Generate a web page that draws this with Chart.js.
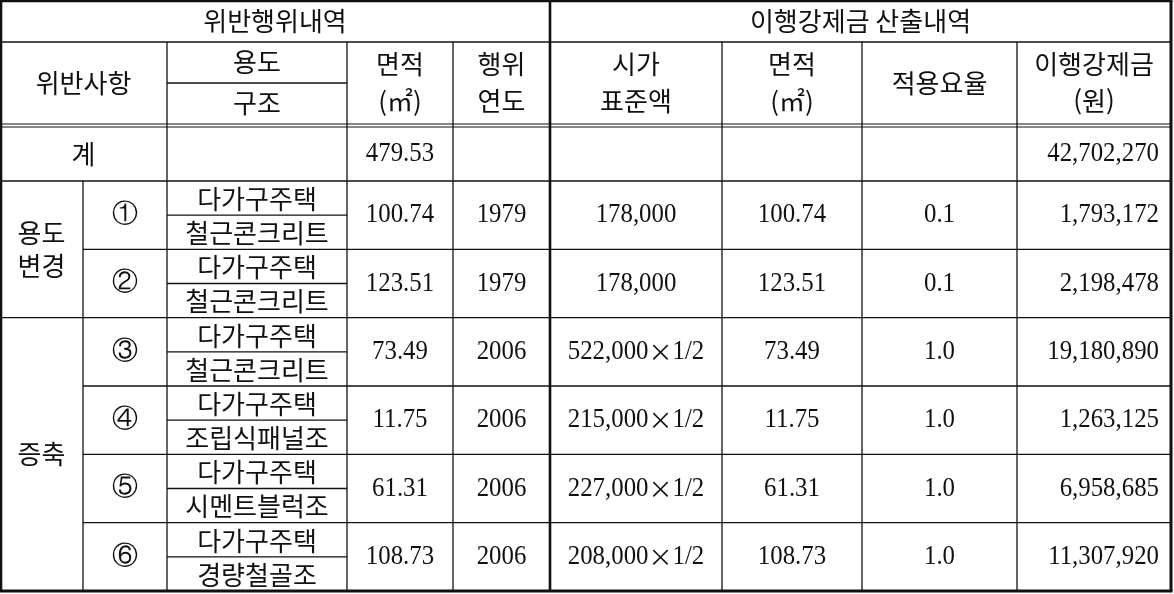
<!DOCTYPE html>
<html lang="ko">
<head>
<meta charset="utf-8">
<script src="https://cdn.jsdelivr.net/npm/chart.js@4/dist/chart.umd.min.js"></script>
<style>
    html, body { margin: 0; padding: 0; background: #fff; }
    #wrap { width: 1174px; height: 594px; }
</style>
</head>
<body>
<div id="wrap"><canvas id="table" width="1174" height="594"></canvas></div>
<script>
// table contents
const groupLabels = ["용도\n변경", "증축"];
const groupSizes = [2, 4];
const itemMarks = ["①", "②", "③", "④", "⑤", "⑥"];
const uses = ["다가구주택", "다가구주택", "다가구주택", "다가구주택", "다가구주택", "다가구주택"];
const structures = ["철근콘크리트", "철근콘크리트", "철근콘크리트", "조립식패널조", "시멘트블럭조", "경량철골조"];
const areas = ["100.74", "123.51", "73.49", "11.75", "61.31", "108.73"];
const years = ["1979", "1979", "2006", "2006", "2006", "2006"];
const standardPrices = ["178,000", "178,000", "522,000×1/2", "215,000×1/2", "227,000×1/2", "208,000×1/2"];
const rates = ["0.1", "0.1", "1.0", "1.0", "1.0", "1.0"];
const fines = [1793172, 2198478, 19180890, 1263125, 6958685, 11307920];
const totalArea = "479.53";
const totalFine = 42702270;
const sectionTitles = ["위반행위내역", "이행강제금 산출내역"];
const leftHeaders = ["위반사항", "용도", "구조", "면적\n(㎡)", "행위\n연도"];
const rightHeaders = ["시가\n표준액", "면적\n(㎡)", "적용요율", "이행강제금\n(원)"];

// layout (scale units)
const colEdges = [0, 83, 167, 347, 453, 550, 722, 862, 1017, 1171];
const headTop = 1, headMid = 42, headSub = 83, headBottom = 124, totalTop = 127, totalBottom = 181, tableBottom = 591;

const KO = '26px "Noto Sans CJK KR"';
const NUM = '27px "Liberation Serif"';
const TIMES = '24px "Noto Sans CJK KR"';
const SQ = 0.92;
const INK = "#111";

function fmt(n) {
    return n.toLocaleString("en-US");
}

function drawText(ctx, text, x, y, font, align, squeeze) {
    ctx.save();
    ctx.font = font;
    ctx.fillStyle = INK;
    ctx.textBaseline = "middle";
    ctx.textAlign = align || "center";
    ctx.translate(x, y);
    ctx.scale(squeeze || 1, 1);
    ctx.fillText(text, 0, 0);
    ctx.restore();
}

// number text where "×" is set in a full-width glyph
function drawNumber(ctx, text, x, y, align) {
    const parts = text.split("×");
    if (parts.length === 1) {
        drawText(ctx, text, x, y, NUM, align, SQ);
        return;
    }
    ctx.save();
    ctx.font = NUM;
    const w0 = ctx.measureText(parts[0]).width * SQ;
    const w2 = ctx.measureText(parts[1]).width * SQ;
    ctx.font = TIMES;
    const w1 = ctx.measureText("×").width;
    ctx.restore();
    const total = w0 + w1 + w2;
    let left = align === "right" ? x - total : x - total / 2;
    drawText(ctx, parts[0], left, y, NUM, "left", SQ);
    drawText(ctx, "×", left + w0 + w1 / 2, y, TIMES, "center");
    drawText(ctx, parts[1], left + w0 + w1, y, NUM, "left", SQ);
}

function drawLines(ctx, text, x, yTop, yBottom, font, gap) {
    const parts = text.split("\n");
    const mid = (yTop + yBottom) / 2;
    parts.forEach((p, i) => {
        drawText(ctx, p, x, mid + (i - (parts.length - 1) / 2) * gap, font);
    });
}

const tablePlugin = {
    id: "tableDraw",
    afterDraw(chart) {
        const ctx = chart.ctx;
        const xs = chart.scales.x;
        const ys = chart.scales.y;
        const X = v => xs.getPixelForValue(v);
        const Y = v => ys.getPixelForValue(v);
        const cx = i => (X(colEdges[i]) + X(colEdges[i + 1])) / 2;

        function hLine(x0, x1, y, w) {
            ctx.beginPath();
            ctx.lineWidth = w || 1.3;
            ctx.strokeStyle = INK;
            ctx.moveTo(X(x0), Y(y));
            ctx.lineTo(X(x1), Y(y));
            ctx.stroke();
        }
        function vLine(x, y0, y1, w) {
            ctx.beginPath();
            ctx.lineWidth = w || 1.3;
            ctx.strokeStyle = INK;
            ctx.moveTo(X(x), Y(y0));
            ctx.lineTo(X(x), Y(y1));
            ctx.stroke();
        }

        const n = itemMarks.length;
        const itemH = (tableBottom - totalBottom) / n;
        const itemTop = i => totalBottom + i * itemH;
        const right = colEdges[colEdges.length - 1];

        // grid
        hLine(colEdges[0], right, headMid);
        hLine(colEdges[2], colEdges[3], headSub);
        hLine(colEdges[0], right, headBottom, 1.2);
        hLine(colEdges[0], right, totalTop, 1.2);
        hLine(colEdges[0], right, totalBottom);
        let groupStart = 0;
        const groupStarts = [];
        groupSizes.forEach(s => { groupStarts.push(groupStart); groupStart += s; });
        for (let i = 1; i < n; i++) {
            const x0 = groupStarts.includes(i) ? colEdges[0] : colEdges[1];
            hLine(x0, right, itemTop(i));
        }
        for (let i = 0; i < n; i++) {
            hLine(colEdges[2], colEdges[3], itemTop(i) + itemH / 2);
        }
        vLine(colEdges[1], totalBottom, tableBottom);
        [2, 3, 4, 6, 7, 8].forEach(c => vLine(colEdges[c], headMid, tableBottom));
        vLine(colEdges[5], headTop, tableBottom, 2.6);
        // outer frame
        hLine(colEdges[0] - 1, right + 1.5, headTop, 2.6);
        hLine(colEdges[0] - 1, right + 1.5, tableBottom, 3);
        vLine(colEdges[0] + 1, headTop, tableBottom, 2.6);
        vLine(right, headTop, tableBottom, 3);

        // headers
        drawText(ctx, sectionTitles[0], (X(colEdges[0]) + X(colEdges[5])) / 2, (Y(headTop) + Y(headMid)) / 2, KO);
        drawText(ctx, sectionTitles[1], (X(colEdges[5]) + X(right)) / 2, (Y(headTop) + Y(headMid)) / 2, KO);
        drawLines(ctx, leftHeaders[0], (X(colEdges[0]) + X(colEdges[2])) / 2, Y(headMid), Y(headBottom), KO, 36);
        drawLines(ctx, leftHeaders[1], cx(2), Y(headMid), Y(headSub), KO, 36);
        drawLines(ctx, leftHeaders[2], cx(2), Y(headSub), Y(headBottom), KO, 36);
        drawLines(ctx, leftHeaders[3], cx(3), Y(headMid), Y(headBottom), KO, 37);
        drawLines(ctx, leftHeaders[4], cx(4), Y(headMid), Y(headBottom), KO, 37);
        rightHeaders.forEach((h, i) => drawLines(ctx, h, cx(5 + i), Y(headMid), Y(headBottom), KO, 37));

        // total row
        const totalMid = (Y(totalTop) + Y(totalBottom)) / 2;
        drawText(ctx, "계", (X(colEdges[0]) + X(colEdges[2])) / 2, totalMid, KO);
        drawNumber(ctx, totalArea, cx(3), totalMid, "center");
        drawNumber(ctx, fmt(totalFine), X(right) - 12, totalMid, "right");

        // groups
        groupLabels.forEach((g, gi) => {
            const top = itemTop(groupStarts[gi]);
            const bottom = itemTop(groupStarts[gi] + groupSizes[gi]);
            drawLines(ctx, g, cx(0), Y(top), Y(bottom), KO, 33);
        });

        // items
        for (let i = 0; i < n; i++) {
            const top = itemTop(i);
            const mid = Y(top + itemH / 2);
            drawText(ctx, itemMarks[i], cx(1), mid, '26px "DejaVu Serif"');
            drawText(ctx, uses[i], cx(2), (Y(top) + Y(top + itemH / 2)) / 2 + 1, KO);
            drawText(ctx, structures[i], cx(2), (Y(top + itemH / 2) + Y(top + itemH)) / 2 + 1, KO);
            drawNumber(ctx, areas[i], cx(3), mid, "center");
            drawNumber(ctx, years[i], cx(4), mid, "center");
            drawNumber(ctx, standardPrices[i], cx(5), mid, "center");
            drawNumber(ctx, areas[i], cx(6), mid, "center");
            drawNumber(ctx, rates[i], cx(7), mid, "center");
            drawNumber(ctx, fmt(fines[i]), X(right) - 12, mid, "right");
        }
    }
};

const canvas = document.getElementById("table");
new Chart(canvas.getContext("2d"), {
    type: "scatter",
    data: { datasets: [{ data: [] }] },
    options: {
        responsive: false,
        devicePixelRatio: 1,
        animation: false,
        layout: { padding: 0 },
        plugins: { legend: { display: false }, tooltip: { enabled: false } },
        scales: {
            x: { type: "linear", min: 0, max: 1174, display: false },
            y: { type: "linear", min: 0, max: 594, reverse: true, display: false }
        }
    },
    plugins: [tablePlugin]
});
</script>
</body>
</html>
